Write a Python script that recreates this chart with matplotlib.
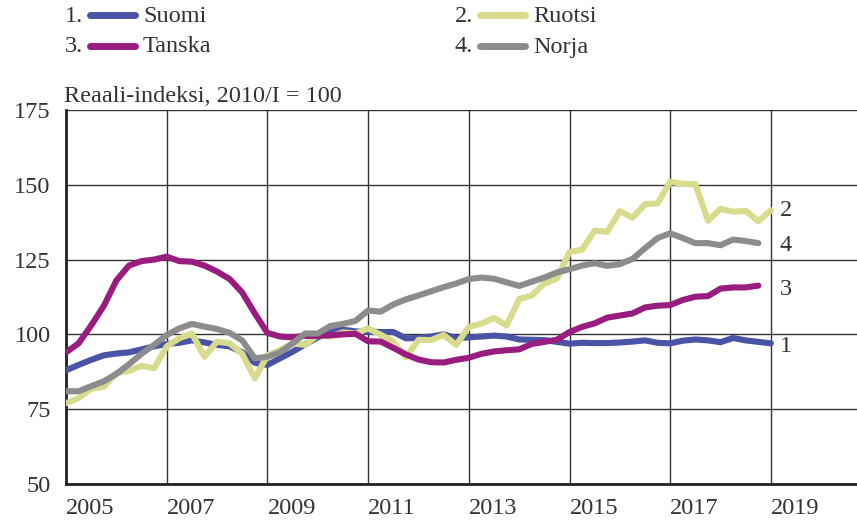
import numpy as np
import matplotlib
matplotlib.use('Agg')
import matplotlib.pyplot as plt
from matplotlib.lines import Line2D

plt.rcParams['font.family'] = ['Liberation Serif', 'DejaVu Serif']

# Quarterly real house price index, 2010/I = 100, starting 2005Q1

suomi = [88, 89.8, 91.5, 93, 93.6, 94, 95, 96, 96.8, 97.2, 98, 97.3, 96.5, 96, 94, 90.5,
         89.8, 92, 94.2, 96.7, 99, 100.8, 101.6, 101, 100.9, 100.8, 100.8, 98.7, 98.8, 99.3, 100, 98.8,
         99, 99.3, 99.6, 99.3, 98.3, 98.2, 98.1, 97.5, 96.9, 97.2, 97.1, 97.1, 97.3, 97.6, 98, 97.2,
         97, 97.9, 98.3, 98, 97.4, 98.8, 98, 97.5, 97]

ruotsi = [77, 78.7, 81.8, 82.5, 87, 87.8, 89.5, 88.7, 96, 98.7, 100.3, 92.5, 97.6, 97, 93.5, 85.3,
          93, 94.8, 97, 96.5, 99.8, 99.2, 100.7, 100.3, 102, 99.9, 97.6, 92.3, 98.2, 98.1, 99.8, 96.5,
          102.5, 103.6, 105.5, 103, 111.8, 113, 117, 118.6, 127.5, 128.3, 134.7, 134.3, 141.2, 139, 143.5, 143.8,
          151, 150.3, 150.2, 138, 142, 141, 141.3, 137.8, 141.5]

tanska = [94, 97, 103, 109.5, 118, 123, 124.5, 125, 126, 124.5, 124.3, 123, 121, 118.5, 114, 107,
          100.5, 99.3, 99, 99.5, 99.5, 99.7, 100, 100.2, 97.7, 97.6, 95.5, 93.3, 91.6, 90.7, 90.6, 91.5,
          92.2, 93.5, 94.3, 94.7, 95, 96.8, 97.5, 98.2, 100.8, 102.5, 103.7, 105.6, 106.3, 107, 109, 109.6,
          109.8, 111.5, 112.6, 112.8, 115.3, 115.7, 115.7, 116.3]

norja = [81, 81, 82.7, 84.3, 86.8, 90, 93.5, 96.5, 99.8, 102, 103.5, 102.6, 101.8, 100.5, 98, 92,
         92.5, 94, 97, 100.3, 100.3, 102.8, 103.5, 104.5, 108, 107.6, 110, 111.7, 113, 114.4, 115.8, 117,
         118.5, 119, 118.6, 117.4, 116.2, 117.6, 119, 120.7, 121.8, 123, 123.8, 122.9, 123.5, 125.2, 128.8, 132.2,
         133.8, 132.2, 130.5, 130.5, 129.8, 131.7, 131.2, 130.5]

names = ['Suomi', 'Ruotsi', 'Tanska', 'Norja']
colors = ['#4a53a6', '#d8db8b', '#991d80', '#8c8c8c']
series = [suomi, ruotsi, tanska, norja]

# end label positions (number, y value)
end_labels = [('1', 95.8), ('2', 141.5), ('3', 115.1), ('4', 129.8)]

year_ticks = [2005, 2007, 2009, 2011, 2013, 2015, 2017, 2019]
fs = 17.5

fig = plt.figure(figsize=(8.57, 5.22), dpi=100)
ax = fig.add_axes([66/857, 38/522, 791/857, 374/522])

for s, c in zip(series, colors):
    x = 2005 + np.arange(len(s)) / 4
    ax.plot(x, s, color=c, lw=4.4, solid_capstyle='round', solid_joinstyle='round', zorder=3)

for lab, yv in end_labels:
    ax.text(2019.18, yv, lab, fontsize=fs, color='#333333', va='center', ha='left')

ax.set_xlim(2005, 2005 + 791/50.35)
ax.set_ylim(50, 175)
ax.set_yticks([50, 75, 100, 125, 150, 175])
ax.set_xticks(year_ticks)
ax.set_xticklabels([str(y) for y in year_ticks], ha='left')
ax.tick_params(axis='both', length=0, labelsize=fs, colors='#333333')
ax.tick_params(axis='x', pad=10)
ax.tick_params(axis='y', pad=11)
ax.grid(True, color='#333333', lw=1.0, zorder=1)
for sp in ['top', 'right']:
    ax.spines[sp].set_visible(False)
for sp in ['left', 'bottom']:
    ax.spines[sp].set_linewidth(2.0)
    ax.spines[sp].set_color('#222222')

fig.text(64/857, 1 - 102/522, 'Reaali-indeksi, 2010/I = 100', fontsize=fs, color='#333333',
         ha='left', va='baseline')

# legend drawn by hand, two columns
leg_pos = [(65, 16), (455, 16), (65, 47), (455, 47)]
for i, (name, c) in enumerate(zip(names, colors)):
    px, py = leg_pos[i]
    yy = 1 - py/522
    fig.text(px/857, yy, f'{i+1}.', fontsize=fs, color='#333333', ha='left', va='center')
    fig.add_artist(Line2D([(px+25)/857, (px+70)/857], [yy + 1/522, yy + 1/522], color=c, lw=5,
                          solid_capstyle='round', transform=fig.transFigure))
    fig.text((px+78)/857, yy, name, fontsize=fs, color='#333333', ha='left', va='center')

fig.savefig('out.png', dpi=100)
